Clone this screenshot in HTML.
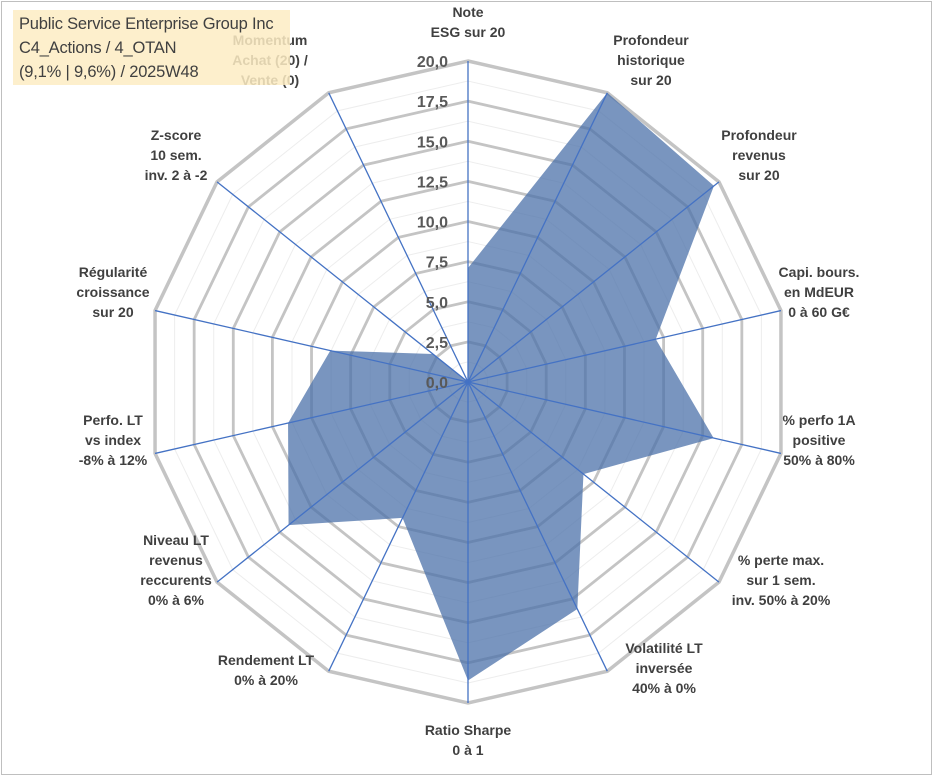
<!DOCTYPE html>
<html><head><meta charset="utf-8"><style>
body{margin:0;background:#fff}
#wrap{position:relative;width:933px;height:776px;overflow:hidden;font-family:"Liberation Sans",sans-serif}
#frame{position:absolute;left:1px;top:1px;width:929px;height:772px;border:1px solid #bfbfbf}
#title{position:absolute;left:13px;top:10px;width:277px;height:75px;background:rgba(253,236,195,0.85);font-family:"Liberation Sans",sans-serif;font-size:16.5px;letter-spacing:-0.2px;color:#404040;line-height:24px;padding:2px 0 0 6px;box-sizing:border-box;white-space:nowrap}
</style></head><body>
<div id="wrap">
<div id="frame"></div>
<svg id="svg" width="933" height="776" style="position:absolute;left:0;top:0"></svg>
<div id="title">Public Service Enterprise Group Inc<br>C4_Actions / 4_OTAN<br>(9,1% | 9,6%) / 2025W48</div>
</div>
<script>
const categories=[["Note","ESG sur 20"],["Profondeur","historique","sur 20"],["Profondeur","revenus","sur 20"],["Capi. bours.","en MdEUR","0 à 60 G€"],["% perfo 1A","positive","50% à 80%"],["% perte max.","sur 1 sem.","inv. 50% à 20%"],["Volatilité LT","inversée","40% à 0%"],["Ratio Sharpe","0 à 1"],["Rendement LT","0% à 20%"],["Niveau LT","revenus","reccurents","0% à 6%"],["Perfo. LT","vs index","-8% à 12%"],["Régularité","croissance","sur 20"],["Z-score","10 sem.","inv. 2 à -2"],["Momentum","Achat (20) /","Vente (0)"]];
const values=[7.1,20,19.6,12,15.7,9.2,15.7,18.6,9.4,14.3,11.5,8.8,2.8,0];
const ticks=["0,0","2,5","5,0","7,5","10,0","12,5","15,0","17,5","20,0"];
const maxV=20;
const labelPos=[[468,22],[651,60],[759,155],[819,292],[819,440],[781,580],[664,668],[468,740],[266,670],[176,570],[113,440],[113,292],[176,155],[270,60]];
const svg=document.getElementById('svg');const NS='http://www.w3.org/2000/svg';
const cx=468,cy=382,R=321,N=categories.length;
function pt(i,v){const a=2*Math.PI*i/N;const r=v/maxV*R;return [cx+r*Math.sin(a),cy-r*Math.cos(a)];}
function mk(t,at){const e=document.createElementNS(NS,t);for(const k in at)e.setAttribute(k,at[k]);svg.appendChild(e);return e;}
for(let k=1;k<=16;k++){const v=k*1.25;const p=[];for(let i=0;i<N;i++)p.push(pt(i,v).join(','));
const e=mk('polygon',{points:p.join(' '),fill:'none',stroke:k%2?'#ededed':'#c4c4c4','stroke-width':k%2?1:(k==16?3.5:2.8)});

}
const sp=values.map((v,i)=>pt(i,v).join(',')).join(' ');
const poly=mk('polygon',{points:sp,fill:'rgba(74,112,168,0.74)',stroke:'none'});


for(let i=0;i<N;i++){const [x,y]=pt(i,maxV);const l=mk('line',{x1:cx,y1:cy,x2:x,y2:y,stroke:'#4472c4','stroke-width':1.3});

}
ticks.forEach((t,k)=>{const y=cy-k*2.5/maxV*R;const e=mk('text',{x:448,y:y+6,'text-anchor':'end','font-size':16,'font-weight':'bold',fill:'#595959','font-family':'Liberation Sans, sans-serif'});e.textContent=t;

});
categories.forEach((c,i)=>{const [x,y]=labelPos[i];const h=c.length*20;const e=mk('text',{x:x,'text-anchor':'middle','font-size':14,'font-weight':'bold',fill:'#404040','font-family':'Liberation Sans, sans-serif'});
c.forEach((s,j)=>{const ts=document.createElementNS(NS,'tspan');ts.setAttribute('x',x);ts.setAttribute('y',y-h/2+15+j*20);ts.textContent=s;e.appendChild(ts);});

});
</script>
</body></html>
